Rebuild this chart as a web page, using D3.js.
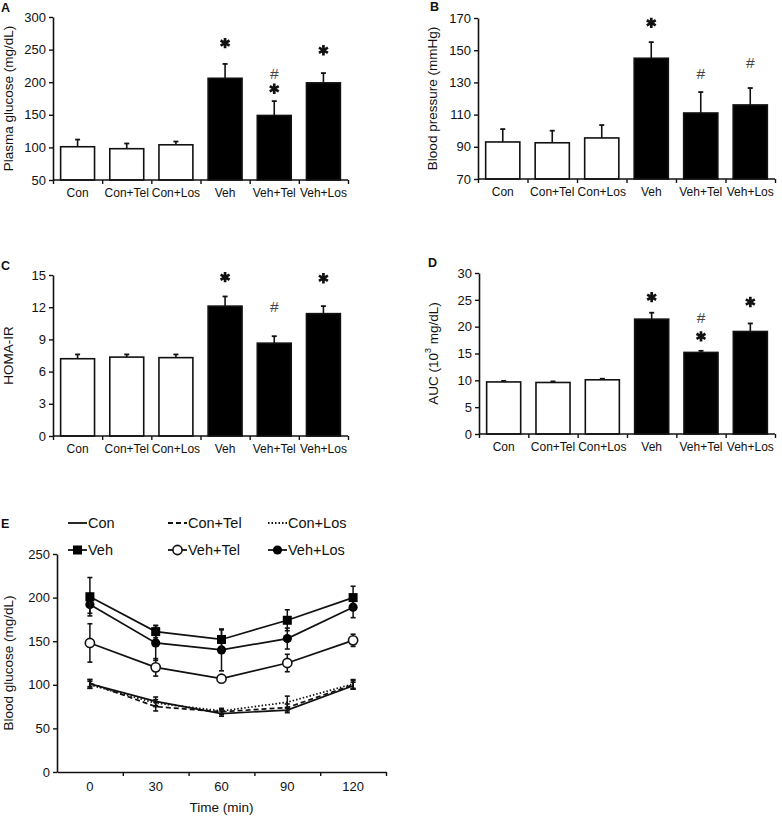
<!DOCTYPE html>
<html>
<head>
<meta charset="utf-8">
<script src="https://cdn.jsdelivr.net/npm/d3@7"></script>
<style>
  body { margin: 0; background: #fff; }
  svg text { font-family: "Liberation Sans", Arial, sans-serif; fill: #111; }
</style>
</head>
<body>
<svg id="fig" width="782" height="816"></svg>
<script>
// ---- data ----
var groups = ["Con", "Con+Tel", "Con+Los", "Veh", "Veh+Tel", "Veh+Los"];
var glucoseMean = [101, 98, 104, 206, 149, 199];
var glucoseErr  = [11, 8, 5, 22, 22, 15];
var bpMean = [93, 92.5, 95.5, 145, 111, 116];
var bpErr  = [8, 7.5, 8, 10, 13, 10.5];
var homaMean = [7.2, 7.35, 7.3, 12.1, 8.65, 11.4];
var homaErr  = [0.4, 0.25, 0.3, 0.9, 0.65, 0.7];
var aucMean = [9.7, 9.6, 10.1, 21.4, 15.2, 19.1];
var aucErr  = [0.2, 0.2, 0.2, 1.2, 0.3, 1.5];

// significance marks: group index, symbol, value level
var sigA = [[3, "*", 260], [4, "#", 214], [4, "*", 190], [5, "*", 249]];
var sigB = [[3, "*", 167], [4, "#", 135.6], [5, "#", 142.5]];
var sigC = [[3, "*", 14.8], [4, "#", 12.1], [5, "*", 14.7]];
var sigD = [[3, "*", 25.5], [4, "#", 21.8], [4, "*", 18.2], [5, "*", 24.6]];

var times = ["0", "30", "60", "90", "120"];
var conCurve    = [101, 81, 67, 71, 99];
var conErrs     = [5, 5, 3, 3, 4];
var conTelCurve = [102, 75, 69, 74, 100];
var conTelErrs  = [4, 5, 3, 4, 5];
var conLosCurve = [100, 79, 70, 80, 101];
var conLosErrs  = [4, 4, 3, 7, 5];
var vehCurve    = [201, 161, 152, 174, 200];
var vehErrs     = [22, 7, 11, 12, 13];
var vehTelCurve = [148, 120, 107, 125, 151];
var vehTelErrs  = [22, 10, 3, 10, 7];
var vehLosCurve = [192, 148, 140, 153, 189];
var vehLosErrs  = [10, 20, 24, 12, 12];

var svg = d3.select("#fig");

function styleAxis(g) {
  g.selectAll(".domain").attr("stroke", "#111").attr("stroke-width", 1.6);
  g.selectAll(".tick line").attr("stroke", "#111").attr("stroke-width", 1.4);
  g.selectAll("text").attr("font-size", 13).attr("fill", "#111");
}

function asterisk(g, x, y) {
  g.append("path")
    .attr("transform", "translate(" + x + "," + y + ")")
    .attr("d", d3.symbol(d3.symbolAsterisk, 75)())
    .attr("fill", "none").attr("stroke", "#111").attr("stroke-width", 2.7);
}

function barPanel(cfg) {
  var g = svg.append("g");
  var x = d3.scaleBand().domain(groups).range([cfg.x0, cfg.x1]);
  var xi = d3.scaleLinear().domain([0, groups.length]).range([cfg.x0, cfg.x1]);
  var y = d3.scaleLinear().domain(cfg.domain).range([cfg.yb, cfg.yt]);
  var bw = x.bandwidth() * 0.69;
  var black = function(i) { return i >= 3; };

  // error bars (upward only)
  g.selectAll(".err").data(cfg.mean).enter().append("g").each(function(m, i) {
    var cx = x(groups[i]) + x.bandwidth() / 2;
    var top = y(m + cfg.err[i]);
    d3.select(this).append("line")
      .attr("x1", cx).attr("x2", cx).attr("y1", y(m)).attr("y2", top)
      .attr("stroke", "#111").attr("stroke-width", 1.6);
    d3.select(this).append("line")
      .attr("x1", cx - 2.5).attr("x2", cx + 2.5).attr("y1", top).attr("y2", top)
      .attr("stroke", "#111").attr("stroke-width", 1.8);
  });

  g.selectAll(".bar").data(cfg.mean).enter().append("rect")
    .attr("x", function(d, i) { return x(groups[i]) + (x.bandwidth() - bw) / 2; })
    .attr("y", function(d) { return y(d); })
    .attr("width", bw)
    .attr("height", function(d) { return y(cfg.domain[0]) - y(d); })
    .attr("fill", function(d, i) { return black(i) ? "#000" : "#fff"; })
    .attr("stroke", "#111").attr("stroke-width", 1.6);

  // y axis
  var ya = g.append("g").attr("transform", "translate(" + cfg.x0 + ",0)")
    .call(d3.axisLeft(y).tickValues(cfg.ticks).tickSize(4).tickSizeOuter(0).tickPadding(3));
  styleAxis(ya);

  // x axis: tick marks between groups, labels centred on groups
  var xa = g.append("g").attr("transform", "translate(0," + cfg.yb + ")")
    .call(d3.axisBottom(xi).tickValues(d3.range(0, groups.length + 1)).tickFormat("").tickSize(4).tickSizeOuter(0));
  styleAxis(xa);
  xa.select(".domain").attr("d", "M" + cfg.x0 + ",0H" + cfg.x1);
  var xl = g.append("g").attr("transform", "translate(0," + cfg.yb + ")")
    .call(d3.axisBottom(x).tickSize(0).tickPadding(8));
  xl.select(".domain").remove();
  styleAxis(xl);
  xl.selectAll("text").attr("font-size", 12);

  // y label
  g.append("text")
    .attr("transform", "translate(" + cfg.labelX + "," + ((cfg.yt + cfg.yb) / 2) + ") rotate(-90)")
    .attr("text-anchor", "middle").attr("dominant-baseline", "central")
    .attr("font-size", 13.5)
    .each(function() {
      var t = d3.select(this);
      if (cfg.label === "AUC") {
        t.append("tspan").text("AUC (10");
        t.append("tspan").text("3").attr("font-size", 9).attr("dy", -5);
        t.append("tspan").text(" mg/dL)").attr("dy", 5);
      } else {
        t.text(cfg.label);
      }
    });

  // panel letter
  g.append("text").attr("x", cfg.letterX).attr("y", cfg.letterY)
    .attr("font-size", 12.5).attr("font-weight", "bold").text(cfg.letter);

  // significance
  cfg.sig.forEach(function(s) {
    var cx = x(groups[s[0]]) + x.bandwidth() / 2;
    var cy = y(s[2]);
    if (s[1] === "*") {
      asterisk(g, cx, cy);
    } else {
      g.append("text").attr("x", cx).attr("y", cy)
        .attr("text-anchor", "middle").attr("dominant-baseline", "central")
        .attr("font-size", 15.5).style("fill", "#444").text("#");
    }
  });
}

barPanel({ x0: 53, x1: 348, yt: 17, yb: 180, domain: [50, 300], ticks: d3.range(50, 301, 50),
  mean: glucoseMean, err: glucoseErr, sig: sigA, label: "Plasma glucose (mg/dL)",
  labelX: 8, letter: "A", letterX: 1, letterY: 12 });
barPanel({ x0: 478, x1: 775, yt: 18, yb: 179, domain: [70, 170], ticks: d3.range(70, 171, 20),
  mean: bpMean, err: bpErr, sig: sigB, label: "Blood pressure (mmHg)",
  labelX: 432, letter: "B", letterX: 430, letterY: 11 });
barPanel({ x0: 53, x1: 348, yt: 275, yb: 436, domain: [0, 15], ticks: d3.range(0, 16, 3),
  mean: homaMean, err: homaErr, sig: sigC, label: "HOMA-IR",
  labelX: 8, letter: "C", letterX: 1, letterY: 270 });
barPanel({ x0: 479, x1: 775, yt: 273, yb: 434, domain: [0, 30], ticks: d3.range(0, 31, 5),
  mean: aucMean, err: aucErr, sig: sigD, label: "AUC",
  labelX: 433, letter: "D", letterX: 428, letterY: 267 });

// ---- panel E: glucose tolerance curves ----
(function() {
  var g = svg.append("g");
  var x0 = 57, x1 = 386, yt = 554, yb = 772;
  var x = d3.scaleBand().domain(times).range([x0, x1]);
  var xi = d3.scaleLinear().domain([0, times.length]).range([x0, x1]);
  var y = d3.scaleLinear().domain([0, 250]).range([yb, yt]);
  var cx = function(i) { return x(times[i]) + x.bandwidth() / 2; };

  var series = [
    { name: "Con", v: conCurve, e: conErrs, dash: null, mark: "none" },
    { name: "Con+Tel", v: conTelCurve, e: conTelErrs, dash: "5,3", mark: "none" },
    { name: "Con+Los", v: conLosCurve, e: conLosErrs, dash: "1.5,2", mark: "none" },
    { name: "Veh+Tel", v: vehTelCurve, e: vehTelErrs, dash: null, mark: "open" },
    { name: "Veh+Los", v: vehLosCurve, e: vehLosErrs, dash: null, mark: "circle" },
    { name: "Veh", v: vehCurve, e: vehErrs, dash: null, mark: "square" }
  ];

  var line = d3.line().x(function(d, i) { return cx(i); }).y(function(d) { return y(d); });

  function drawMark(sel, type, px, py) {
    if (type === "square") {
      sel.append("rect").attr("x", px - 4.5).attr("y", py - 4.5).attr("width", 9).attr("height", 9)
        .attr("fill", "#000");
    } else if (type === "circle") {
      sel.append("circle").attr("cx", px).attr("cy", py).attr("r", 4.6).attr("fill", "#000");
    } else if (type === "open") {
      sel.append("circle").attr("cx", px).attr("cy", py).attr("r", 4.6)
        .attr("fill", "#fff").attr("stroke", "#111").attr("stroke-width", 1.6);
    }
  }

  series.forEach(function(s) {
    // error bars
    s.v.forEach(function(v, i) {
      var a = y(v + s.e[i]), b = y(v - s.e[i]);
      g.append("line").attr("x1", cx(i)).attr("x2", cx(i)).attr("y1", a).attr("y2", b)
        .attr("stroke", "#111").attr("stroke-width", 1.5);
      [a, b].forEach(function(yy) {
        g.append("line").attr("x1", cx(i) - 2.5).attr("x2", cx(i) + 2.5).attr("y1", yy).attr("y2", yy)
          .attr("stroke", "#111").attr("stroke-width", 1.6);
      });
    });
    g.append("path").datum(s.v).attr("d", line)
      .attr("fill", "none").attr("stroke", "#111").attr("stroke-width", 1.7)
      .attr("stroke-dasharray", s.dash);
    s.v.forEach(function(v, i) { drawMark(g, s.mark, cx(i), y(v)); });
  });

  var ya = g.append("g").attr("transform", "translate(" + x0 + ",0)")
    .call(d3.axisLeft(y).tickValues(d3.range(0, 251, 50)).tickSize(4).tickSizeOuter(0).tickPadding(3));
  styleAxis(ya);
  var xa = g.append("g").attr("transform", "translate(0," + yb + ")")
    .call(d3.axisBottom(xi).tickValues(d3.range(0, times.length + 1)).tickFormat("").tickSize(4).tickSizeOuter(0));
  styleAxis(xa);
  xa.selectAll(".tick").filter(function(d) { return d === 0; }).remove();
  var xl = g.append("g").attr("transform", "translate(0," + yb + ")")
    .call(d3.axisBottom(x).tickSize(0).tickPadding(10));
  xl.select(".domain").remove();
  styleAxis(xl);

  g.append("text").attr("x", (x0 + x1) / 2).attr("y", 812).attr("text-anchor", "middle")
    .attr("font-size", 13.5).text("Time (min)");
  g.append("text")
    .attr("transform", "translate(8," + ((yt + yb) / 2) + ") rotate(-90)")
    .attr("text-anchor", "middle").attr("dominant-baseline", "central")
    .attr("font-size", 13.5).text("Blood glucose (mg/dL)");
  g.append("text").attr("x", 1).attr("y", 528).attr("font-size", 12.5).attr("font-weight", "bold").text("E");

  // legend
  var legend = [
    { name: "Con", col: 0, row: 0, dash: null, mark: "none" },
    { name: "Con+Tel", col: 1, row: 0, dash: "5,3", mark: "none" },
    { name: "Con+Los", col: 2, row: 0, dash: "1.5,2", mark: "none" },
    { name: "Veh", col: 0, row: 1, dash: null, mark: "square" },
    { name: "Veh+Tel", col: 1, row: 1, dash: null, mark: "open" },
    { name: "Veh+Los", col: 2, row: 1, dash: null, mark: "circle" }
  ];
  legend.forEach(function(l) {
    var lx = 68 + l.col * 100, ly = 523 + l.row * 27;
    g.append("line").attr("x1", lx).attr("x2", lx + 19).attr("y1", ly).attr("y2", ly)
      .attr("stroke", "#111").attr("stroke-width", 1.8).attr("stroke-dasharray", l.dash);
    drawMark(g, l.mark, lx + 9.5, ly);
    g.append("text").attr("x", lx + 20).attr("y", ly).attr("dominant-baseline", "central")
      .attr("font-size", 14.5).text(l.name);
  });
})();
</script>
</body>
</html>
